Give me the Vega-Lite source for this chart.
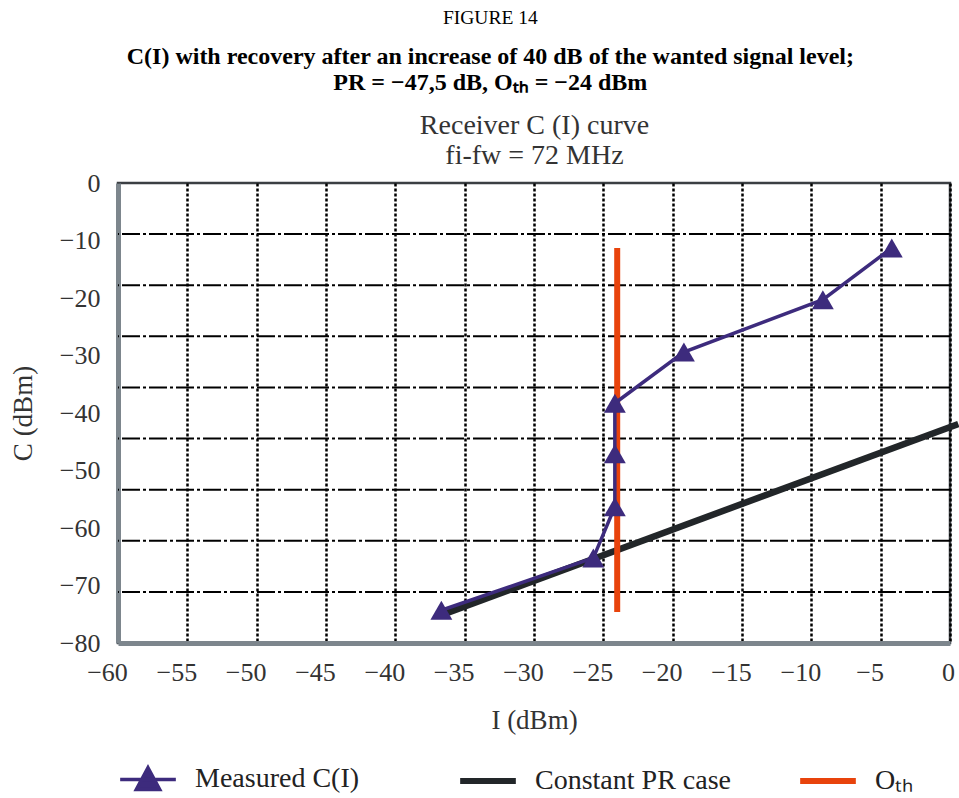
{
  "$schema": "https://vega.github.io/schema/vega-lite/v6.json",
  "width": 832,
  "height": 460,
  "autosize": {"type": "none"},
  "padding": {"left": 118, "top": 183, "right": 9, "bottom": 155},
  "background": "white",
  "title": {
    "text": "FIGURE 14",
    "subtitle": ["C(I) with recovery after an increase of 40 dB of the wanted signal level;", "PR = −47,5 dB, Oₜₕ = −24 dBm"],
    "font": "Liberation Serif",
    "fontSize": 19.5,
    "fontWeight": "normal",
    "color": "black",
    "subtitleFont": "Liberation Serif",
    "subtitleFontSize": 24,
    "subtitleFontWeight": "bold",
    "subtitleColor": "black",
    "subtitlePadding": 17,
    "subtitleLineHeight": 26,
    "anchor": "middle",
    "frame": "bounds",
    "offset": 15
  },
  "config": {
    "font": "Liberation Serif",
    "view": {"stroke": "#3b3f43", "strokeWidth": 2.5},
    "axis": {
      "labelFont": "Liberation Serif",
      "labelFontSize": 26,
      "labelColor": "#333333",
      "titleFont": "Liberation Serif",
      "titleFontSize": 27,
      "titleFontWeight": "normal",
      "titleColor": "#333333",
      "ticks": false,
      "domainColor": "#7d868d",
      "domainWidth": 5
    },
    "legend": {
      "labelFont": "Liberation Serif",
      "labelFontSize": 28,
      "labelColor": "#222222",
      "labelLimit": 400
    }
  },
  "datasets": {
    "hgrid": [
      {"C": -8.89}, {"C": -17.78}, {"C": -26.67}, {"C": -35.56},
      {"C": -44.44}, {"C": -53.33}, {"C": -62.22}, {"C": -71.11}
    ],
    "pr": [
      {"I": -36.3, "C": -74.8, "series": "Constant PR case"},
      {"I": 0.6, "C": -41.9, "series": "Constant PR case"}
    ],
    "oth": [
      {"I": -24.0, "C": -11.3, "C2": -74.6, "series": "Oₜₕ"}
    ],
    "measured": [
      {"k": 1, "I": -36.68, "C": -74.3, "series": "Measured C(I)"},
      {"k": 2, "I": -25.72, "C": -65.2, "series": "Measured C(I)"},
      {"k": 3, "I": -24.17, "C": -56.3, "series": "Measured C(I)"},
      {"k": 4, "I": -24.17, "C": -47.1, "series": "Measured C(I)"},
      {"k": 5, "I": -24.17, "C": -38.3, "series": "Measured C(I)"},
      {"k": 6, "I": -19.19, "C": -29.4, "series": "Measured C(I)"},
      {"k": 7, "I": -9.17, "C": -20.3, "series": "Measured C(I)"},
      {"k": 8, "I": -4.2, "C": -11.3, "series": "Measured C(I)"}
    ]
  },
  "layer": [
    {
      "data": {"name": "hgrid"},
      "mark": {"type": "rule", "color": "black", "strokeWidth": 2, "strokeDash": [18, 3, 3, 3]},
      "encoding": {
        "y": {
          "field": "C",
          "type": "quantitative",
          "title": "C (dBm)",
          "scale": {"domain": [-80, 0], "nice": false, "zero": false},
          "axis": {
            "values": [0, -10, -20, -30, -40, -50, -60, -70, -80],
            "grid": false,
            "labelPadding": 18,
            "labelFlush": false,
            "titlePadding": 22,
            "titleFont": "Liberation Serif",
            "labelFont": "Liberation Serif"
          }
        }
      }
    },
    {
      "data": {"name": "pr"},
      "mark": {"type": "line", "strokeWidth": 6.5, "strokeCap": "butt", "clip": false},
      "encoding": {
        "x": {
          "field": "I",
          "type": "quantitative",
          "scale": {"domain": [-60, 0], "nice": false, "zero": false},
          "title": ["Receiver C (I) curve", "fi-fw = 72 MHz"],
          "axis": {
            "orient": "top",
            "labels": false,
            "ticks": false,
            "domain": false,
            "grid": false,
            "titleFont": "Liberation Serif",
            "titleFontSize": 28,
            "titlePadding": 14,
            "titleLineHeight": 30
          }
        },
        "y": {"field": "C", "type": "quantitative", "title": "C (dBm)"},
        "color": {
          "field": "series",
          "type": "nominal",
          "scale": {
            "domain": ["Measured C(I)", "Constant PR case", "Oₜₕ"],
            "range": ["#3d2b7d", "#222629", "#e8430c"]
          },
          "legend": {
            "title": null,
            "orient": "none",
            "legendX": 2,
            "legendY": 582,
            "direction": "horizontal",
            "gridAlign": "all",
            "columnPadding": 57,
            "labelOffset": 47,
            "labelFont": "Liberation Serif",
            "symbolType": "stroke",
            "symbolSize": 3100,
            "symbolStrokeWidth": 6,
            "encode": {
              "symbols": {
                "update": {
                  "shape": {"signal": "datum.value === 'Measured C(I)' ? 'M-1,0H1M0,-0.42L0.42,0.36L-0.42,0.36Z' : 'stroke'"},
                  "strokeWidth": {"signal": "datum.value === 'Measured C(I)' ? 3.5 : 6"},
                  "fill": {"signal": "datum.value === 'Measured C(I)' ? '#3d2b7d' : 'transparent'"},
                  "stroke": {"signal": "datum.value === 'Measured C(I)' ? '#3d2b7d' : (datum.value === 'Constant PR case' ? '#222629' : '#e8430c')"},
                  "size": {"value": 3100},
                  "x": {"value": 28},
                  "opacity": {"value": 1}
                }
              }
            }
          }
        }
      }
    },
    {
      "data": {"name": "oth"},
      "mark": {"type": "rule", "strokeWidth": 6, "strokeCap": "butt"},
      "encoding": {
        "x": {"field": "I", "type": "quantitative", "axis": null},
        "y": {"field": "C", "type": "quantitative", "title": "C (dBm)"},
        "y2": {"field": "C2"},
        "color": {"field": "series", "type": "nominal"}
      }
    },
    {
      "data": {"name": "measured"},
      "mark": {"type": "line", "strokeWidth": 3.5},
      "encoding": {
        "x": {
          "field": "I",
          "type": "quantitative",
          "title": "I (dBm)",
          "axis": {
            "orient": "bottom",
            "values": [-60, -55, -50, -45, -40, -35, -30, -25, -20, -15, -10, -5, 0],
            "grid": true,
            "gridColor": "black",
            "gridDash": [3, 2],
            "gridWidth": 2.5,
            "gridOpacity": 1,
            "labelPadding": 16,
            "labelFlush": false,
            "labelOverlap": false,
            "labelOffset": {"condition": {"test": "datum.value === 0", "value": -2}, "value": -11},
            "titleFont": "Liberation Serif",
            "labelFont": "Liberation Serif",
            "titlePadding": 22
          }
        },
        "y": {"field": "C", "type": "quantitative", "title": "C (dBm)"},
        "order": {"field": "k"},
        "color": {"field": "series", "type": "nominal"}
      }
    },
    {
      "data": {"name": "measured"},
      "mark": {"type": "point", "shape": "triangle-up", "size": 480, "filled": true, "opacity": 1},
      "encoding": {
        "x": {"field": "I", "type": "quantitative", "axis": null},
        "y": {"field": "C", "type": "quantitative", "title": "C (dBm)"},
        "color": {"field": "series", "type": "nominal"}
      }
    }
  ],
  "resolve": {"axis": {"x": "independent"}}
}
